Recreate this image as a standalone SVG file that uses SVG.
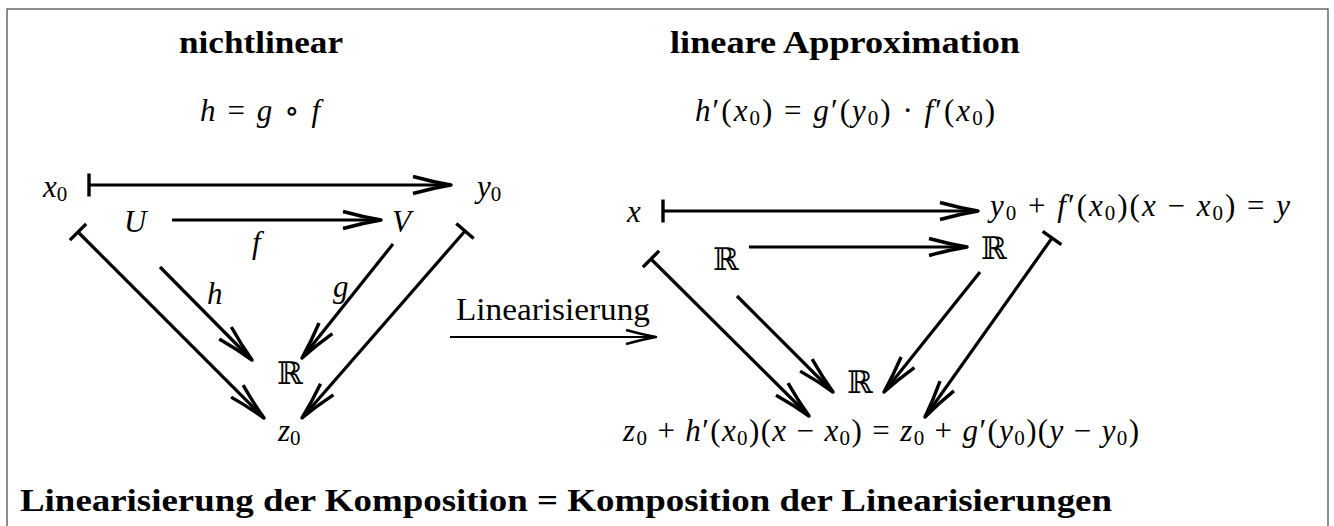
<svg xmlns="http://www.w3.org/2000/svg" width="1334" height="526" viewBox="0 0 1334 526">
<style>
.t{font-family:"Liberation Serif","DejaVu Serif",serif;font-size:31px;fill:#000}
.b{font-weight:bold;font-size:32px}
.i{font-style:italic}
.s{font-size:21px}
.c{stroke:#000;stroke-width:3.2;fill:none}
.thin{stroke-width:2.2}
</style>
<defs>
<marker id="ah" markerUnits="userSpaceOnUse" orient="auto" refX="0" refY="0" markerWidth="1" markerHeight="1" overflow="visible">
<path d="M-38,-8.5 Q-18,-3 0,0 Q-18,3 -38,8.5" stroke="#000" stroke-width="3.4" fill="none" stroke-linejoin="round"/>
</marker>
<marker id="ah2" markerUnits="userSpaceOnUse" orient="auto" refX="0" refY="0" markerWidth="1" markerHeight="1" overflow="visible">
<path d="M-30,-7 Q-14,-2.5 0,0 Q-14,2.5 -30,7" stroke="#000" stroke-width="2.4" fill="none" stroke-linejoin="round"/>
</marker>
<marker id="bar" markerUnits="userSpaceOnUse" orient="auto" refX="0" refY="0" markerWidth="1" markerHeight="1" overflow="visible">
<path d="M0,-11.5 V11.5" stroke="#000" stroke-width="3.4"/>
</marker>
</defs>
<rect x="7" y="9" width="1321" height="530" fill="none" stroke="#444" stroke-width="1.2"/>

<g id="title-left"><text class="t b" x="261" y="53" text-anchor="middle" textLength="164" lengthAdjust="spacingAndGlyphs">nichtlinear</text></g>
<g id="title-right"><text class="t b" x="845" y="53" text-anchor="middle" textLength="350" lengthAdjust="spacingAndGlyphs">lineare Approximation</text></g>
<g id="eq-left"><text class="t" x="200" y="121" textLength="120" lengthAdjust="spacing"><tspan class="i">h</tspan> = <tspan class="i">g</tspan> ∘ <tspan class="i">f</tspan></text></g>
<g id="eq-right"><text class="t" x="695" y="121" textLength="300" lengthAdjust="spacing"><tspan class="i">h</tspan>′(<tspan class="i">x</tspan><tspan class="s" dy="4">0</tspan><tspan dy="-4">) = </tspan><tspan class="i">g</tspan>′(<tspan class="i">y</tspan><tspan class="s" dy="4">0</tspan><tspan dy="-4">) · </tspan><tspan class="i">f</tspan>′(<tspan class="i">x</tspan><tspan class="s" dy="4">0</tspan><tspan dy="-4">)</tspan></text></g>

<g id="node-x0"><text class="t" x="43" y="197"><tspan class="i">x</tspan><tspan class="s" dy="4">0</tspan></text></g>
<g id="node-y0"><text class="t" x="477" y="197"><tspan class="i">y</tspan><tspan class="s" dy="4">0</tspan></text></g>
<g id="node-U"><text class="t i" x="124" y="232">U</text></g>
<g id="node-V"><text class="t i" x="392" y="232">V</text></g>
<g id="node-R1"><text class="t" x="277" y="384">ℝ</text></g>
<g id="node-z0"><text class="t" x="278" y="441"><tspan class="i">z</tspan><tspan class="s" dy="4">0</tspan></text></g>

<g id="node-x"><text class="t i" x="627" y="222">x</text></g>
<g id="node-y"><text class="t" x="990" y="216" textLength="300" lengthAdjust="spacing"><tspan class="i">y</tspan><tspan class="s" dy="4">0</tspan><tspan dy="-4"> + </tspan><tspan class="i">f</tspan>′(<tspan class="i">x</tspan><tspan class="s" dy="4">0</tspan><tspan dy="-4">)(</tspan><tspan class="i">x</tspan> − <tspan class="i">x</tspan><tspan class="s" dy="4">0</tspan><tspan dy="-4">) = </tspan><tspan class="i">y</tspan></text></g>
<g id="node-R2"><text class="t" x="713" y="270">ℝ</text></g>
<g id="node-R3"><text class="t" x="981" y="259">ℝ</text></g>
<g id="node-R4"><text class="t" x="847" y="393">ℝ</text></g>
<g id="node-z"><text class="t" x="623" y="441" textLength="516" lengthAdjust="spacing"><tspan class="i">z</tspan><tspan class="s" dy="4">0</tspan><tspan dy="-4"> + </tspan><tspan class="i">h</tspan>′(<tspan class="i">x</tspan><tspan class="s" dy="4">0</tspan><tspan dy="-4">)(</tspan><tspan class="i">x</tspan> − <tspan class="i">x</tspan><tspan class="s" dy="4">0</tspan><tspan dy="-4">) = </tspan><tspan class="i">z</tspan><tspan class="s" dy="4">0</tspan><tspan dy="-4"> + </tspan><tspan class="i">g</tspan>′(<tspan class="i">y</tspan><tspan class="s" dy="4">0</tspan><tspan dy="-4">)(</tspan><tspan class="i">y</tspan> − <tspan class="i">y</tspan><tspan class="s" dy="4">0</tspan><tspan dy="-4">)</tspan></text></g>

<g id="connectors">
<line class="c" x1="89" y1="185" x2="451" y2="185" marker-start="url(#bar)" marker-end="url(#ah)"/>
<line class="c" x1="172" y1="220" x2="381" y2="220" marker-end="url(#ah)"/>
<line class="c" x1="78" y1="232" x2="264" y2="418" marker-start="url(#bar)" marker-end="url(#ah)"/>
<line class="c" x1="160" y1="267" x2="252" y2="360" marker-end="url(#ah)"/>
<line class="c" x1="393" y1="244" x2="302" y2="358" marker-end="url(#ah)"/>
<line class="c" x1="465" y1="231" x2="302" y2="418" marker-start="url(#bar)" marker-end="url(#ah)"/>
<line class="c thin" x1="450" y1="337" x2="656" y2="337" marker-end="url(#ah2)"/>
<line class="c" x1="663" y1="211" x2="978" y2="211" marker-start="url(#bar)" marker-end="url(#ah)"/>
<line class="c" x1="749" y1="247" x2="967" y2="247" marker-end="url(#ah)"/>
<line class="c" x1="651" y1="259" x2="809" y2="416" marker-start="url(#bar)" marker-end="url(#ah)"/>
<line class="c" x1="737" y1="296" x2="833" y2="392" marker-end="url(#ah)"/>
<line class="c" x1="980" y1="272" x2="884" y2="392" marker-end="url(#ah)"/>
<line class="c" x1="1052" y1="238" x2="925" y2="417" marker-start="url(#bar)" marker-end="url(#ah)"/>
</g>

<g id="label-f"><text class="t i" x="252" y="253">f</text></g>
<g id="label-h"><text class="t i" x="207" y="304">h</text></g>
<g id="label-g"><text class="t i" x="333" y="297">g</text></g>
<g id="label-lin"><text class="t" x="456" y="320" textLength="194" lengthAdjust="spacingAndGlyphs">Linearisierung</text></g>

<g id="caption"><text class="t b" x="20" y="511" textLength="1092" lengthAdjust="spacingAndGlyphs">Linearisierung der Komposition = Komposition der Linearisierungen</text></g>
</svg>
